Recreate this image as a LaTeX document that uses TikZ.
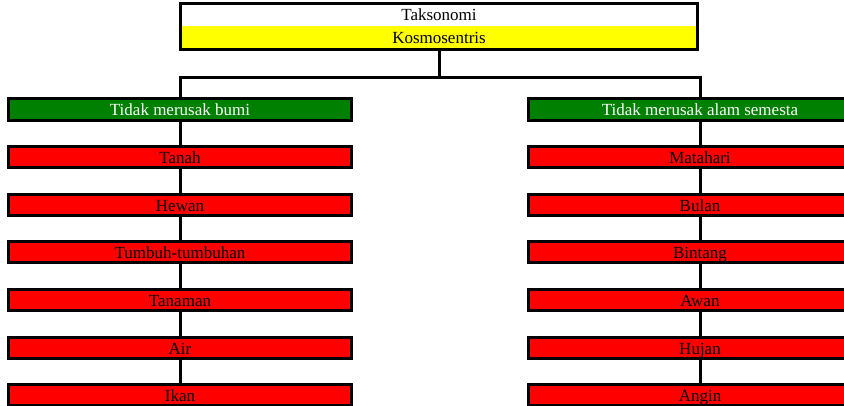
\documentclass[tikz,border=0pt]{standalone}
\usepackage{fontspec}
\setmainfont{Liberation Serif}
\usetikzlibrary{positioning,fit,backgrounds}
\definecolor{boxgreen}{RGB}{0,128,0}
\definecolor{boxred}{RGB}{255,0,0}
\definecolor{boxyellow}{RGB}{255,255,0}
\tikzset{
  headrow/.style={rectangle, minimum width=517pt, minimum height=22.5pt, inner sep=0pt, text height=13pt, text depth=1pt, font=\fontsize{17}{20}\selectfont},
  groupnode/.style={rectangle, draw=black, line width=3pt, fill=boxgreen, text=white, minimum width=343pt, minimum height=22pt, inner sep=0pt, text height=13pt, text depth=0pt, font=\fontsize{17}{20}\selectfont},
  itemnode/.style={rectangle, draw=black, line width=3pt, fill=boxred, text=black, minimum width=343pt, minimum height=21pt, inner sep=0pt, text height=13pt, text depth=0pt, font=\fontsize{17}{20}\selectfont},
  link/.style={line width=3pt, black}
}
\begin{document}
\begin{tikzpicture}[x=1pt, y=-1pt, node distance=23.5pt]
\path[use as bounding box, clip] (0,0) rectangle (844,406);
% header
\node[headrow, fill=white] (taks) at (439,14.75) {Taksonomi};
\node[headrow, fill=boxyellow, below=0pt of taks] (kosmo) {Kosmosentris};
\node[draw=black, line width=3pt, inner sep=0pt, fit=(taks)(kosmo)] (head) {};
% left column
\node[groupnode] (bumi) at (180,109.5) {Tidak merusak bumi};
\node[itemnode, below=of bumi] (tanah) {Tanah};
\node[itemnode, below=of tanah] (hewan) {Hewan};
\node[itemnode, below=of hewan] (tumbuh) {Tumbuh-tumbuhan};
\node[itemnode, below=of tumbuh] (tanaman) {Tanaman};
\node[itemnode, below=of tanaman] (air) {Air};
\node[itemnode, below=of air] (ikan) {Ikan};
% right column
\node[groupnode] (alam) at (700,109.5) {Tidak merusak alam semesta};
\node[itemnode, below=of alam] (matahari) {Matahari};
\node[itemnode, below=of matahari] (bulan) {Bulan};
\node[itemnode, below=of bulan] (bintang) {Bintang};
\node[itemnode, below=of bintang] (awan) {Awan};
\node[itemnode, below=of awan] (hujan) {Hujan};
\node[itemnode, below=of hujan] (angin) {Angin};
% connectors
\draw[link] (head.south) -- ++(0,26.5) coordinate (split);
\draw[link] (bumi.north) |- (split) -| (alam.north);
\begin{scope}[on background layer]
\draw[link] (bumi.center) -- (ikan.center);
\draw[link] (alam.center) -- (angin.center);
\end{scope}
\end{tikzpicture}
\end{document}
